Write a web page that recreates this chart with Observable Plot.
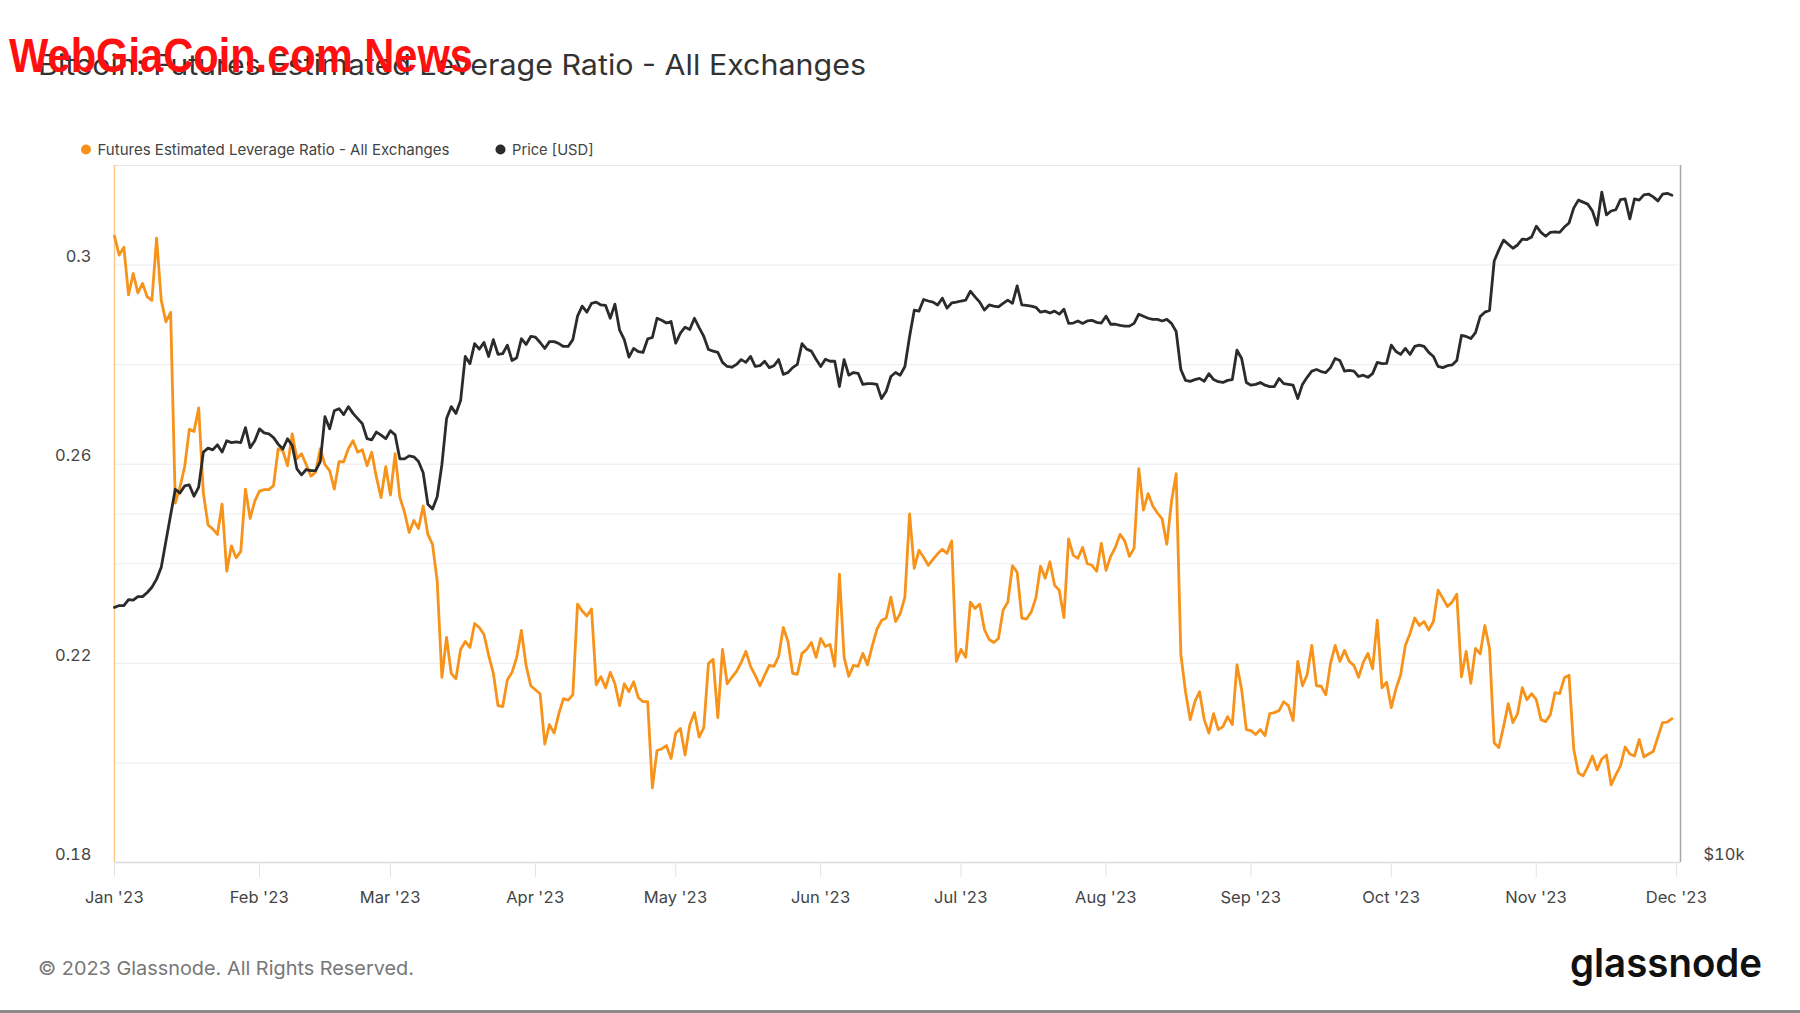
<!DOCTYPE html>
<html><head><meta charset="utf-8">
<script src="https://cdn.jsdelivr.net/npm/d3@7"></script>
<script src="https://cdn.jsdelivr.net/npm/@observablehq/plot@0.6"></script>
<style>
html,body{margin:0;padding:0;background:#fff;}
#wrap{position:relative;width:1800px;height:1013px;overflow:hidden;background:#fff;font-family:Inter,sans-serif;}
#wrap > svg, #wrap > div{position:absolute;left:0;top:0;}
</style></head>
<body><div id="wrap"></div>
<script>
// ---------- data ----------
const startDate = "2023-01-01";
const leverage = [
.3058,.3020,.3036,.2940,.2983,.2944,.2963,.2936,.2929,.3054,
.2929,.2886,.2905,.2522,.2554,.2595,.2670,.2666,.2713,.2542,
.2478,.2470,.2459,.2520,.2385,.2436,.2412,.2425,.2550,.2491,
.2526,.2546,.2549,.2549,.2557,.2631,.2627,.2597,.2661,.2611,
.2621,.2599,.2576,.2584,.2631,.2599,.2587,.2550,.2605,.2605,
.2631,.2647,.2624,.2629,.2597,.2624,.2574,.2533,.2595,.2538,
.2621,.2534,.2504,.2463,.2487,.2471,.2516,.2459,.2439,.2365,
.2172,.2252,.2180,.2169,.2228,.2244,.2232,.2280,.2272,.2258,
.2216,.2180,.2115,.2113,.2167,.2182,.2212,.2266,.2196,.2155,
.2147,.2139,.2038,.2077,.2060,.2099,.2129,.2126,.2137,.2319,
.2305,.2295,.2309,.2157,.2173,.2151,.2182,.2159,.2115,.2159,
.2143,.2163,.2131,.2123,.2123,.1950,.2025,.2028,.2035,.2009,
.2060,.2069,.2016,.2076,.2101,.2052,.2071,.2200,.2208,.2091,
.2228,.2159,.2172,.2184,.2202,.2224,.2194,.2176,.2155,.2176,
.2196,.2194,.2214,.2272,.2244,.2180,.2178,.2220,.2228,.2242,
.2212,.2250,.2234,.2238,.2194,.2379,.2212,.2174,.2196,.2194,
.2220,.2197,.2234,.2268,.2286,.2291,.2333,.2284,.2300,.2333,
.2500,.2391,.2427,.2413,.2397,.2409,.2420,.2429,.2421,.2446,
.2204,.2228,.2212,.2323,.2310,.2319,.2268,.2248,.2242,.2250,
.2307,.2323,.2396,.2383,.2291,.2289,.2303,.2331,.2395,.2371,
.2404,.2357,.2347,.2292,.2450,.2417,.2411,.2433,.2400,.2397,
.2385,.2441,.2387,.2415,.2433,.2459,.2446,.2415,.2431,.2591,
.2508,.2541,.2516,.2502,.2490,.2439,.2525,.2581,.2218,.2143,
.2087,.2123,.2143,.2087,.2060,.2099,.2067,.2073,.2093,.2077,
.2197,.2147,.2067,.2065,.2057,.2067,.2055,.2099,.2101,.2105,
.2123,.2115,.2085,.2204,.2155,.2177,.2236,.2155,.2154,.2137,
.2200,.2236,.2204,.2226,.2204,.2196,.2172,.2202,.2220,.2189,
.2287,.2151,.2162,.2111,.2149,.2177,.2236,.2260,.2291,.2276,
.2284,.2267,.2284,.2347,.2331,.2314,.2323,.2339,.2173,.2224,
.2160,.2230,.2219,.2276,.2230,.2040,.2031,.2073,.2119,.2081,
.2099,.2151,.2127,.2139,.2127,.2087,.2083,.2097,.2141,.2139,
.2171,.2176,.2028,.1980,.1974,.1992,.2014,.1986,.2008,.2016,
.1956,.1976,.1994,.2032,.2018,.2014,.2047,.2012,.2018,.2023,
.2052,.2081,.2082,.2089
];
// BTC price, thousands of USD
const priceK = [
16.61,16.67,16.67,16.87,16.85,16.97,16.97,17.11,17.29,17.57,
17.99,18.95,19.96,21.01,20.85,21.15,21.19,20.72,21.10,22.62,
22.80,22.72,22.95,22.62,23.14,23.05,23.08,23.05,23.75,22.82,
23.14,23.69,23.50,23.46,23.28,22.98,22.76,23.23,22.92,21.88,
21.62,21.85,21.80,21.80,22.20,24.27,23.69,24.56,24.66,24.37,
24.76,24.43,24.18,23.93,23.23,23.18,23.54,23.40,23.23,23.60,
23.41,22.32,22.32,22.45,22.41,22.20,21.71,20.39,20.20,20.70,
22.06,24.18,24.76,24.43,25.06,27.36,26.97,28.07,27.76,28.13,
27.36,28.29,27.47,27.51,27.98,27.14,27.29,28.34,28.02,28.47,
28.43,28.13,27.80,28.18,28.18,28.07,27.91,27.91,28.29,29.64,
30.24,29.88,30.41,30.48,30.31,30.28,29.52,30.36,28.83,28.29,
27.32,27.80,27.62,27.58,28.33,28.41,29.52,29.40,29.24,29.33,
28.09,28.66,29.00,28.87,29.52,28.97,28.47,27.74,27.65,27.58,
27.04,26.82,26.78,26.93,27.19,27.04,27.36,26.82,26.86,27.10,
26.76,26.86,27.19,26.40,26.50,26.76,26.93,28.07,27.76,27.65,
27.21,26.82,27.21,27.10,27.10,25.77,27.19,26.36,26.50,26.46,
25.88,25.92,25.92,25.88,25.16,25.53,26.29,26.50,26.36,26.82,
28.47,30.00,29.94,30.64,30.55,30.48,30.31,30.72,30.12,30.43,
30.48,30.55,30.60,31.15,30.80,30.48,30.00,30.31,30.24,30.19,
30.41,30.60,30.41,31.48,30.31,30.28,30.24,30.17,29.88,29.94,
29.83,29.94,29.76,30.05,29.22,29.24,29.36,29.22,29.36,29.40,
29.28,29.24,29.64,29.17,29.17,29.10,29.06,29.06,29.22,29.76,
29.64,29.52,29.45,29.45,29.36,29.45,29.22,28.75,26.66,26.09,
26.04,26.13,26.19,26.04,26.44,26.13,26.02,25.98,26.09,26.13,
27.70,27.25,25.98,25.84,25.88,25.98,25.84,25.77,25.77,26.19,
25.92,25.88,25.84,25.16,25.88,26.25,26.57,26.66,26.55,26.50,
26.76,27.25,27.14,26.57,26.61,26.57,26.29,26.36,26.25,26.44,
27.04,26.97,26.99,27.98,27.63,27.47,27.80,27.47,27.91,27.98,
27.91,27.58,27.36,26.82,26.76,26.86,26.90,27.14,28.53,28.47,
28.35,28.69,29.62,29.88,29.98,33.08,33.82,34.48,34.20,33.93,
34.15,34.55,34.52,34.70,35.45,35.02,34.75,35.02,35.05,35.02,
35.39,35.68,36.75,37.34,37.19,37.04,36.54,35.54,37.94,36.26,
36.54,36.63,37.37,37.43,35.97,37.43,37.34,37.73,37.79,37.58,
37.28,37.78,37.85,37.70
];
const monthTicks = ["2023-01-01","2023-02-01","2023-03-01","2023-04-01","2023-05-01","2023-06-01",
  "2023-07-01","2023-08-01","2023-09-01","2023-10-01","2023-11-01","2023-12-01"];
const leverageTicks = [0.18, 0.22, 0.26, 0.3];
const leverageGrid = [0.2, 0.22, 0.24, 0.26, 0.28, 0.3];
const priceTicks = [10000];
const priceTickLabels = ["$10k"];
const priceGrid = [20000];
const seriesNames = ["Futures Estimated Leverage Ratio - All Exchanges", "Price [USD]"];
const seriesColors = ["#f7931a", "#2b2b2b"];
const titleText = "Bitcoin: Futures Estimated Leverage Ratio - All Exchanges";
const footerText = "© 2023 Glassnode. All Rights Reserved.";
const brandText = "glassnode";
const watermarkText = "WebGiaCoin.com News";

// ---------- build ----------
const t0 = new Date(Date.UTC(2023, 0, 1));
const table = leverage.map((v, i) => ({date: d3.utcDay.offset(t0, i), lev: v, price: priceK[i] * 1000}));
const xDomain = [t0, new Date(Date.UTC(2023, 11, 1, 20))];
const W = 1800, H = 930;
const M = {marginLeft: 114, marginRight: 120, marginTop: 165, marginBottom: 68};
const baseStyle = {fontFamily: "Inter, sans-serif", fontSize: "16.5px", color: "#444", background: "transparent", overflow: "visible"};
const wrap = document.getElementById("wrap");

// header / footer layer
const hdr = d3.create("svg").attr("width", 1800).attr("height", 1013);
hdr.append("text").attr("x", 38).attr("y", 75).attr("font-family", "Inter, sans-serif").attr("font-size", 28)
  .attr("fill", "#333").attr("textLength", 828).attr("lengthAdjust", "spacingAndGlyphs").text(titleText);
const legX = [86, 500.5];
const legLen = [352, 81.5];
seriesNames.forEach((n, i) => {
  hdr.append("circle").attr("cx", legX[i]).attr("cy", 149.5).attr("r", 5).attr("fill", seriesColors[i]);
  hdr.append("text").attr("x", legX[i] + 11.5).attr("y", 155).attr("font-family", "Inter, sans-serif")
    .attr("font-size", 15).attr("fill", "#444").attr("textLength", legLen[i]).attr("lengthAdjust", "spacingAndGlyphs").text(n);
});
hdr.append("text").attr("x", 38).attr("y", 975).attr("font-family", "Inter, sans-serif").attr("font-size", 19)
  .attr("fill", "#777").attr("textLength", 376).attr("lengthAdjust", "spacingAndGlyphs").text(footerText);
hdr.append("text").attr("x", 1570).attr("y", 977).attr("font-family", "Inter, sans-serif").attr("font-size", 40)
  .attr("font-weight", 600).attr("fill", "#111").attr("textLength", 192).attr("lengthAdjust", "spacingAndGlyphs").text(brandText);
hdr.append("rect").attr("x", 0).attr("y", 1010).attr("width", 1800).attr("height", 3).attr("fill", "#8a8a8a");
wrap.appendChild(hdr.node());

// price grid layer (log scale)
wrap.appendChild(Plot.plot({
  width: W, height: H, ...M, style: baseStyle,
  x: {type: "utc", domain: xDomain, axis: null},
  y: {type: "log", domain: [10000, 40000]},
  marks: [
    Plot.ruleY(priceGrid, {stroke: "#ececec"}),
    Plot.ruleX([xDomain[1]], {stroke: "#a6a6a6", strokeWidth: 1.5}),
    Plot.axisY({anchor: "right", ticks: priceTicks, tickFormat: (d) => priceTickLabels[priceTicks.indexOf(d)],
      tickSize: 0, tickPadding: 23, dy: -8, fill: "#444", label: null})
  ]
}));

// leverage layer
wrap.appendChild(Plot.plot({
  width: W, height: H, ...M, style: baseStyle,
  x: {type: "utc", domain: xDomain},
  y: {domain: [0.18, 0.32]},
  marks: [
    Plot.ruleY(leverageGrid, {stroke: "#ececec"}),
    Plot.ruleY([0.32], {stroke: "#e6e6e6"}),
    Plot.ruleY([0.18], {stroke: "#dcdcdc", strokeWidth: 1.5}),
    Plot.ruleX([xDomain[0]], {stroke: "#f7931a", strokeOpacity: 0.5, strokeWidth: 1.5}),
    Plot.line(table, {x: "date", y: "lev", stroke: seriesColors[0], strokeWidth: 2.8}),
    Plot.axisX({ticks: monthTicks.map((s) => new Date(s + "T00:00Z")), tickFormat: d3.utcFormat("%b '%y"),
      tickSize: 15, tickPadding: 13.5, stroke: "#e3e3e3", fill: "#444", label: null}),
    Plot.axisY({ticks: leverageTicks, tickFormat: (d) => String(d), tickSize: 0, tickPadding: 23, dy: -8,
      fill: "#444", label: null})
  ]
}));

// price line layer
wrap.appendChild(Plot.plot({
  width: W, height: H, ...M, style: baseStyle,
  x: {type: "utc", domain: xDomain, axis: null},
  y: {type: "log", domain: [10000, 40000], axis: null},
  marks: [
    Plot.line(table, {x: "date", y: "price", stroke: seriesColors[1], strokeWidth: 2.8})
  ]
}));

// watermark on top
const wm = d3.create("svg").attr("width", 1800).attr("height", 120);
wm.append("text").attr("x", 9).attr("y", 72).attr("font-family", "'Liberation Sans Narrow', 'Liberation Sans', sans-serif")
  .attr("font-weight", "bold").attr("font-size", 49).attr("fill", "#ff1010")
  .attr("textLength", 464).attr("lengthAdjust", "spacingAndGlyphs").text(watermarkText);
wrap.appendChild(wm.node());
</script>
</body></html>
